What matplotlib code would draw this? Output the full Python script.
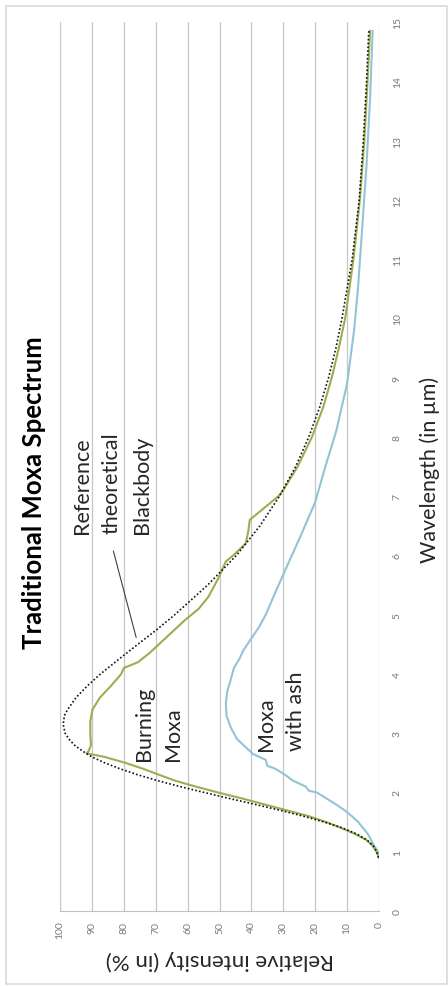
import matplotlib.pyplot as plt
from matplotlib.patches import Rectangle

plt.rcParams['font.family'] = ['Lato', 'DejaVu Sans']

# wavelength (um) / relative intensity (%)
bb_wl = [0.9, 1.0, 1.1, 1.2, 1.3, 1.4, 1.5, 1.6, 1.7, 1.8, 1.9, 2.0, 2.1, 2.2,
         2.3, 2.4, 2.5, 2.6, 2.7, 2.8, 2.9, 3.0, 3.15, 3.3, 3.4, 3.6, 3.8, 4.0,
         4.25, 4.5, 4.75, 5.0, 5.5, 6.0, 6.5, 7.0, 7.5, 8.0, 8.5, 9.0, 9.5,
         10.0, 11.0, 12.0, 13.0, 14.0, 14.85]
bb_int = [0.2, 0.7, 1.8, 3.8, 7.0, 11.4, 17.1, 23.7, 31.1, 38.9, 47.0, 54.8,
          62.4, 69.4, 75.7, 81.2, 86.0, 90.0, 93.0, 95.5, 97.2, 98.4, 99.0,
          98.6, 97.6, 95.0, 91.4, 87.3, 81.5, 75.6, 69.6, 64.0, 53.7, 44.7,
          37.3, 31.2, 26.1, 22.0, 18.6, 15.8, 13.5, 11.6, 8.4, 6.2, 4.9, 3.9,
          3.2]

burn_wl = [0.9, 1.0, 1.1, 1.2, 1.3, 1.4, 1.5, 1.6, 1.7, 1.8, 1.9, 2.0, 2.1,
           2.2, 2.3, 2.4, 2.5, 2.6, 2.66, 2.7, 2.8, 3.0, 3.2, 3.4, 3.6, 3.8,
           4.0, 4.1, 4.2, 4.35, 4.5, 4.7, 4.9, 5.1, 5.3, 5.6, 5.9, 6.0, 6.2,
           6.4, 6.6, 6.8, 7.0, 7.1, 7.5, 8.0, 8.5, 9.0, 9.5, 10.0, 11.0, 12.0,
           13.0, 14.0, 14.85]
burn_int = [0.0, 0.8, 2.0, 4.0, 7.5, 11.8, 16.5, 22.0, 29.0, 36.0, 43.0, 50.5,
            57.5, 64.0, 69.0, 74.0, 79.5, 86.0, 91.7, 91.0, 90.3, 90.5, 90.5,
            89.8, 87.5, 84.0, 80.8, 80.0, 75.5, 72.0, 69.0, 65.0, 61.0, 56.5,
            53.5, 50.5, 48.0, 45.7, 41.8, 41.0, 40.5, 36.0, 31.5, 30.0, 25.5,
            21.0, 17.5, 14.8, 12.6, 10.6, 8.0, 6.0, 4.6, 3.6, 2.8]

ash_wl = [0.95, 1.0, 1.1, 1.2, 1.3, 1.4, 1.5, 1.6, 1.7, 1.8, 1.9, 2.0, 2.03,
          2.1, 2.2, 2.3, 2.4, 2.45, 2.55, 2.65, 2.75, 2.9, 3.1, 3.3, 3.5, 3.7,
          3.9, 4.1, 4.25, 4.4, 4.6, 4.8, 5.0, 5.4, 5.8, 6.3, 6.9, 7.5, 8.1,
          8.9, 9.8, 10.5, 11.5, 12.6, 13.7, 14.85]
ash_int = [0.0, 0.3, 1.5, 2.5, 3.5, 5.0, 6.5, 8.5, 10.8, 13.5, 16.5, 19.5,
           22.0, 23.0, 27.0, 29.5, 32.5, 35.0, 35.5, 39.5, 41.5, 44.5, 46.5,
           47.8, 48.0, 47.6, 46.5, 45.5, 43.8, 42.5, 40.0, 37.5, 35.5, 32.3,
           29.0, 24.8, 20.0, 16.8, 13.4, 10.0, 7.8, 6.6, 5.3, 3.9, 2.8, 2.0]

int_ticks = list(range(0, 101, 10))
wl_ticks = list(range(0, 16))

W, H = 448, 987
fig = plt.figure(figsize=(W / 100, H / 100), dpi=100)

# light frame round the whole chart
fig.patches.append(Rectangle((6 / W, 1 - 985 / H), 441 / W, 978 / H,
                             transform=fig.transFigure, fill=False,
                             edgecolor='#d9d9d9', lw=1.2))

# chart is drawn turned a quarter turn: intensity runs right->left, wavelength up
ax = fig.add_axes([60 / W, 1 - 912 / H, 319 / W, 889 / H])
ax.set_xlim(100, 0)
ax.set_ylim(0, 15)

for s in ['top', 'left', 'right']:
    ax.spines[s].set_visible(False)
ax.spines['bottom'].set_color('#bfbfbf')
ax.grid(axis='x', color='#c6c6c6', lw=0.9)
ax.set_axisbelow(True)

ax.set_xticks(int_ticks)
ax.set_xticklabels([str(v) for v in int_ticks], rotation=90, fontsize=7.5,
                   color='#7a7a7a')
ax.yaxis.tick_right()
ax.set_yticks(wl_ticks)
ax.set_yticklabels([str(v) for v in wl_ticks], rotation=90, fontsize=7.5,
                   color='#7a7a7a', va='center')
ax.tick_params(axis='x', length=0, pad=7)
ax.tick_params(axis='y', length=0, pad=10)

ax.plot(ash_int, ash_wl, color='#93c4d6', lw=1.5)
ax.plot(burn_int, burn_wl, color='#9aaf50', lw=1.5)
ax.plot(bb_int, bb_wl, color='#111111', lw=1.2, ls=(0, (1, 1.3)))

# labels inside the plot
lab = dict(rotation=90, fontsize=15.5, color='#262626', ha='center', va='bottom')
ax.text(93.1, 6.38, 'Reference', **lab)
ax.text(83.7, 6.38, 'theoretical', **lab)
ax.text(74.3, 6.38, 'Blackbody', **lab)
ax.annotate('', xy=(75.9, 4.57), xytext=(83.5, 6.12),
            arrowprops=dict(arrowstyle='-', color='#404040', lw=0.8))
ax.text(73.6, 2.54, 'Burning', **lab)
ax.text(64.6, 2.54, 'Moxa', **lab)
ax.text(35.5, 2.71, 'Moxa', **lab)
ax.text(26.1, 2.71, 'with ash', **lab)

fig.text(34 / W, 1 - 493 / H, 'Traditional Moxa Spectrum', rotation=90,
         fontsize=18.5, fontweight='bold', ha='center', va='center')
fig.text(430 / W, 1 - 470 / H, 'Wavelength (in µm)', rotation=90,
         fontsize=15.5, ha='center', va='center', color='#262626')
fig.text(220 / W, 1 - 960 / H, 'Relative intensity (in %)', rotation=180,
         fontsize=16, ha='center', va='center', color='#262626')

fig.savefig('out.png', dpi=100)
